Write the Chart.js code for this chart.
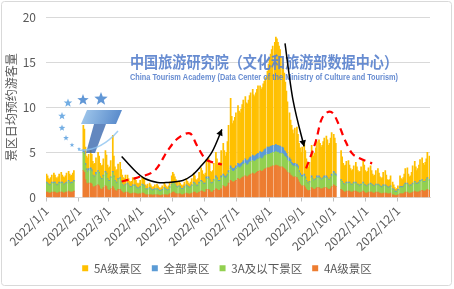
<!DOCTYPE html>
<html><head><meta charset="utf-8">
<script src="https://cdn.jsdelivr.net/npm/chart.js@4"></script>
<style>html,body{margin:0;padding:0;background:#fff;}canvas{display:block;}</style>
</head><body>
<canvas id="c" width="454" height="289"></canvas>
<script>
// ---------- data ----------
const seriesNames = ['5A级景区', '全部景区', '3A及以下景区', '4A级景区'];
const monthTicks = ['2022/1/1','2022/2/1','2022/3/1','2022/4/1','2022/5/1','2022/6/1','2022/7/1','2022/8/1','2022/9/1','2022/10/1','2022/11/1','2022/12/1'];
const yTicks = [0, 5, 10, 15, 20];
const yTitle = '景区日均预约游客量';

// daily values, one row per week (last entry of each row = missing day)
const a4 = [ // 4A级景区 (orange)
.6,.6,.5,.5,.5,.6,null, .6,.6,.5,.5,.5,.6,null, .6,.6,.5,.5,.6,.6,null, .7,.6,.6,.6,.6,.7,null,
null,null,null,null,null,null,null,
3.0,2.8,2.0,1.6,1.5,1.6,null, 1.6,1.5,1.2,1.1,1.2,1.3,null, 1.4,1.3,1.0,.9,.9,1.1,null, 1.3,1.2,.9,.8,.8,1.0,null,
1.2,1.0,.8,.7,.7,.9,null, .9,.7,.6,.5,.5,.6,null, .6,.5,.4,.4,.4,.5,null, .5,.4,.4,.3,.4,.4,null,
.5,.5,.4,.3,.3,.3,null, .3,.3,.3,.2,.3,.3,null, .3,.3,.2,.2,.2,.3,null, .3,.3,.3,.2,.3,.4,null,
.5,.6,.6,.5,.4,.4,null, .4,.4,.3,.3,.3,.4,null, .5,.4,.4,.3,.4,.5,null, .6,.6,.5,.4,.5,.6,null,
.7,.7,.6,.6,.6,.9,null, .9,.8,.6,.6,.6,.8,null, 1.0,.9,.8,.8,.8,1.0,null, 1.3,1.2,1.1,1.2,1.3,1.6,null,
1.9,1.8,1.7,1.7,1.8,1.9,null, 2.1,2.0,2.0,2.1,2.2,2.3,null, 2.4,2.3,2.3,2.4,2.5,2.6,null, 2.7,2.6,2.6,2.7,2.8,2.9,null,
3.0,2.9,2.9,3.0,3.1,3.2,null, 3.3,3.3,3.3,3.4,3.4,3.5,null, 3.5,3.6,3.5,3.5,3.4,3.4,null, 3.4,3.3,3.2,3.1,3.0,2.8,null,
2.7,2.5,2.4,2.3,2.2,2.3,null, 2.2,2.0,1.7,1.5,1.3,1.3,null, 1.3,1.1,.9,.8,.7,.8,null, 1.1,1.0,.9,.9,1.0,1.1,null,
1.1,1.0,.9,1.0,1.0,1.1,null, 1.1,1.0,.9,.9,1.0,1.2,null, 1.4,1.3,1.2,null,null,null,null, .9,.8,.7,.6,.6,.7,null,
.7,.7,.6,.6,.6,.7,null, .7,.6,.6,.5,.5,.6,null, .7,.6,.5,.5,.5,.6,null, .6,.6,.5,.5,.5,.6,null,
.6,.5,.5,.4,.4,.5,null, .5,.5,.4,.4,.4,.5,null, .3,.3,.2,.2,.2,.3,null, .4,.4,.4,.4,.5,.6,null,
.6,.5,.4,.5,.5,.6,null, .7,.6,.6,.6,.6,.7,null, .8,.7,.7,.7,.8,.9,null, .8
];
const a3 = [ // 3A及以下景区 (green)
1.0,.9,.9,.8,.9,1.0,null, 1.0,1.0,.9,.8,.9,1.0,null, 1.0,1.0,.9,.9,.9,1.0,null, 1.1,1.0,.9,1.0,1.0,1.1,null,
null,null,null,null,null,null,null,
2.0,2.0,1.6,1.4,1.3,1.4,null, 1.5,1.4,1.2,1.1,1.1,1.3,null, 1.5,1.4,1.2,1.1,1.1,1.3,null, 1.5,1.4,1.1,1.0,1.0,1.2,null,
1.6,1.3,1.0,.9,.9,1.1,null, 1.2,1.0,.8,.7,.7,.8,null, .9,.8,.7,.7,.7,.8,null, .8,.7,.6,.6,.6,.7,null,
.9,.8,.8,.6,.5,.6,null, .7,.6,.5,.5,.5,.6,null, .6,.5,.5,.5,.5,.5,null, .7,.6,.5,.5,.5,.7,null,
.9,1.0,1.0,.9,.8,.7,null, .8,.7,.6,.6,.6,.7,null, .8,.8,.7,.7,.7,.8,null, 1.0,.9,.8,.8,.8,1.0,null,
1.1,1.0,.9,.9,.9,1.2,null, 1.2,1.1,1.0,.9,1.0,1.1,null, 1.2,1.1,1.0,1.0,1.0,1.2,null, 1.1,1.0,1.0,1.0,1.1,1.2,null,
1.3,1.2,1.2,1.2,1.2,1.3,null, 1.3,1.3,1.3,1.3,1.3,1.4,null, 1.4,1.3,1.3,1.3,1.4,1.4,null, 1.4,1.4,1.4,1.4,1.4,1.4,null,
1.4,1.4,1.4,1.4,1.5,1.5,null, 1.5,1.5,1.5,1.5,1.5,1.5,null, 1.5,1.5,1.5,1.5,1.5,1.5,null, 1.5,1.5,1.4,1.4,1.4,1.3,null,
1.3,1.3,1.2,1.2,1.2,1.2,null, 1.2,1.2,1.1,1.0,1.0,1.0,null, 1.1,1.0,.9,.8,.8,.9,null, 1.1,1.0,.9,1.0,1.0,1.1,null,
1.1,1.1,1.0,1.0,1.1,1.1,null, 1.1,1.1,1.0,1.0,1.1,1.2,null, 1.3,1.2,1.2,null,null,null,null, 1.0,.9,.8,.8,.8,.9,null,
.9,.9,.8,.8,.8,.9,null, .9,.8,.8,.7,.8,.8,null, .9,.8,.8,.7,.7,.8,null, .9,.8,.8,.7,.7,.8,null,
.8,.8,.7,.7,.7,.8,null, .8,.7,.7,.6,.7,.7,null, .6,.5,.4,.4,.4,.5,null, .7,.7,.7,.7,.8,.9,null,
.9,.8,.7,.8,.8,.9,null, 1.0,.9,.9,.9,1.0,1.1,null, 1.1,1.0,1.0,1.0,1.1,1.2,null, 1.1
];
const allSpots = [ // 全部景区 (blue)
.1,.1,.1,.1,.1,.1,null, .1,.1,.1,.1,.1,.1,null, .1,.1,.1,.1,.1,.1,null, .1,.1,.1,.1,.1,.1,null,
null,null,null,null,null,null,null,
.3,.3,.2,.2,.2,.2,null, .2,.2,.1,.1,.1,.2,null, .1,.1,.1,.1,.1,.1,null, .1,.1,.1,.1,.1,.1,null,
.1,.1,.1,.1,.1,.1,null, .1,.1,.1,.1,.1,.1,null, .1,.1,.1,.1,.1,.1,null, .1,.1,.1,.1,.1,.1,null,
.1,.1,.1,.1,.1,.1,null, .1,.1,.1,.1,.1,.1,null, .1,.1,.1,.1,.1,.1,null, .1,.1,.1,.1,.1,.1,null,
.1,.1,.1,.1,.1,.1,null, .1,.1,.1,.1,.1,.1,null, .1,.1,.1,.1,.1,.1,null, .1,.1,.1,.1,.1,.1,null,
.1,.1,.1,.1,.1,.2,null, .2,.1,.1,.1,.1,.1,null, .2,.2,.1,.1,.1,.2,null, .2,.2,.2,.2,.2,.2,null,
.3,.3,.3,.3,.3,.3,null, .4,.4,.4,.4,.4,.4,null, .5,.5,.5,.5,.5,.5,null, .6,.6,.6,.6,.6,.6,null,
.7,.7,.7,.7,.7,.7,null, .8,.8,.8,.8,.8,.8,null, .8,.8,.8,.8,.8,.8,null, .7,.7,.6,.6,.5,.5,null,
.4,.4,.3,.3,.3,.3,null, .3,.3,.2,.2,.2,.2,null, .2,.2,.1,.1,.1,.1,null, .2,.1,.1,.1,.1,.2,null,
.2,.1,.1,.1,.1,.2,null, .2,.1,.1,.1,.1,.2,null, .2,.2,.2,null,null,null,null, .1,.1,.1,.1,.1,.1,null,
.1,.1,.1,.1,.1,.1,null, .1,.1,.1,.1,.1,.1,null, .1,.1,.1,.1,.1,.1,null, .1,.1,.1,.1,.1,.1,null,
.1,.1,.1,.1,.1,.1,null, .1,.1,.1,.1,.1,.1,null, .1,.1,.1,.1,.1,.1,null, .1,.1,.1,.1,.1,.1,null,
.1,.1,.1,.1,.1,.1,null, .1,.1,.1,.1,.1,.1,null, .1,.1,.1,.1,.1,.1,null, .1
];
const a5 = [ // 5A级景区 (yellow)
.9,.8,.6,.6,.7,.8,null, 1.0,.8,.7,.7,.8,.9,null, 1.1,.8,.8,.7,.8,1.0,null, 1.0,.9,.8,.8,1.0,1.1,null,
null,null,null,null,null,null,null,
2.7,2.5,1.8,1.4,1.4,1.6,null, 1.9,1.7,1.5,1.4,1.4,1.6,null, 2.0,1.8,1.5,1.4,1.5,1.8,null, 2.3,2.0,1.5,1.4,1.5,1.8,null,
4.0,2.2,1.5,1.3,1.4,1.6,null, 1.7,1.3,1.0,.9,.8,1.0,null, .9,.7,.6,.5,.6,.8,null, .8,.7,.5,.5,.5,.7,null,
.8,.8,.7,.4,.4,.5,null, .5,.4,.3,.3,.3,.4,null, .5,.4,.3,.2,.3,.4,null, .5,.4,.3,.3,.4,.5,null,
.9,1.1,.9,.8,.7,.5,null, .5,.4,.4,.3,.4,.5,null, .7,.5,.4,.4,.5,.7,null, 1.0,.8,.6,.6,.7,1.1,null,
1.4,1.2,1.0,.9,1.1,1.9,null, 2.1,1.8,1.2,1.2,1.3,1.8,null, 2.6,2.1,1.7,1.6,2.0,2.8,null, 3.4,2.8,2.3,2.6,3.6,5.0,null,
7.5,5.7,5.0,5.3,5.6,5.9,null, 6.4,5.9,5.7,6.0,6.4,6.7,null, 6.9,6.4,6.3,6.6,6.9,7.1,null, 7.3,6.8,6.6,6.9,7.2,7.5,null,
7.3,7.0,7.2,7.5,7.6,7.9,null, 8.4,9.2,9.8,10.2,10.7,11.0,null, 11.4,11.9,11.8,11.4,11.1,10.7,null, 10.0,9.3,8.6,7.7,6.9,6.0,null,
5.0,4.4,4.1,3.7,3.4,3.9,null, 4.1,3.5,3.0,2.8,2.5,3.1,null, 3.4,2.9,2.4,1.9,1.8,2.1,null, 3.4,2.9,2.7,2.9,3.4,3.8,null,
4.0,3.8,3.6,3.7,4.0,4.2,null, 4.4,4.2,3.8,4.0,4.4,4.6,null, 4.1,3.9,3.4,null,null,null,null, 3.2,2.7,2.2,2.0,2.1,2.3,null,
2.4,1.9,1.7,1.5,1.6,1.8,null, 2.2,1.9,1.5,1.5,1.5,1.9,null, 2.4,2.1,1.6,1.5,1.6,1.8,null, 1.9,1.5,1.2,1.1,1.2,1.5,null,
1.7,1.3,1.0,.9,1.0,1.4,null, 1.6,1.2,.8,.8,.8,1.1,null, .7,.5,.4,.2,.3,.4,null, 1.2,.9,.8,1.0,1.2,1.6,null,
1.7,1.2,1.1,1.0,1.4,1.9,null, 2.2,1.8,1.4,1.6,1.9,2.3,null, 2.4,2.0,1.8,2.1,2.3,2.8,null, 2.6
];

// decorative annotation paths, in [day index, value] coordinates
const annoBlack1 = [[71.4,4.56],[83.8,3.0],[93.3,2.11],[105.7,1.67],[115.2,1.67],[129.5,1.89],[138.1,2.44],[145.7,3.33],[157.1,5.0],[166.7,7.56]];
const annoBlack2 = [[226.7,17.1],[234.3,10.8],[244.8,5.67]];
const annoRed1 = [[71.4,1.78],[86.7,2.22],[102.9,3.0],[115.2,5.22],[124.8,6.56],[136.2,7.11],[142.9,5.78],[150.5,4.33],[158.1,3.89],[166.7,3.67]];
const annoRed2 = [[246.7,3.22],[251.4,4.67],[256.2,6.33],[261,8.56],[266.7,9.44],[272.4,9.33],[278.1,8.0],[283.8,6.33],[290.5,4.89],[298.1,4.33],[309.5,3.78]];
const wmCN = '中国旅游研究院（文化和旅游部数据中心）';
const wmEN = 'China Tourism Academy (Data Center of the Ministry of Culture and Tourism)';

// categories: every day of 2022
const days = [];
for (let d = new Date(2022, 0, 1); d.getFullYear() === 2022; d.setDate(d.getDate() + 1)) {
  days.push('2022/' + (d.getMonth() + 1) + '/' + d.getDate());
}

// ---------- drawing helpers ----------
function smoothPath(ctx, pts) {
  ctx.moveTo(pts[0][0], pts[0][1]);
  let last = null;
  for (let i = 0; i < pts.length - 1; i++) {
    const p0 = pts[i - 1] || pts[i], p1 = pts[i], p2 = pts[i + 1], p3 = pts[i + 2] || p2;
    const c1 = [p1[0] + (p2[0] - p0[0]) / 6, p1[1] + (p2[1] - p0[1]) / 6];
    const c2 = [p2[0] - (p3[0] - p1[0]) / 6, p2[1] - (p3[1] - p1[1]) / 6];
    ctx.bezierCurveTo(c1[0], c1[1], c2[0], c2[1], p2[0], p2[1]);
    last = c2;
  }
  return last;
}
function arrowHead(ctx, from, to, size) {
  const a = Math.atan2(to[1] - from[1], to[0] - from[0]);
  ctx.beginPath();
  ctx.moveTo(to[0], to[1]);
  ctx.lineTo(to[0] - size * Math.cos(a - 0.5), to[1] - size * Math.sin(a - 0.5));
  ctx.lineTo(to[0] - size * Math.cos(a + 0.5), to[1] - size * Math.sin(a + 0.5));
  ctx.closePath();
  ctx.fill();
}
function star(ctx, cx, cy, r) {
  ctx.beginPath();
  for (let i = 0; i < 10; i++) {
    const rr = i % 2 ? r * 0.42 : r;
    const a = -Math.PI / 2 + i * Math.PI / 5;
    ctx.lineTo(cx + rr * Math.cos(a), cy + rr * Math.sin(a));
  }
  ctx.closePath();
  ctx.fill();
}

const decoPlugin = {
  id: 'deco',
  afterDatasetsDraw(chart) {
    const {ctx, scales: {x, y}} = chart;
    const P = (p) => [x.getPixelForValue(p[0]), y.getPixelForValue(p[1])];
    ctx.save();
    // stars
    const stars = [[101,99,7],[83,100,6],[68,103,4.5],[62,116,4],[62,128,3.5],[66,138,3],[72,145,2.5],[79,149,2]];
    stars.forEach(s => { ctx.fillStyle = s[2] > 5 ? 'rgba(80,140,210,0.9)' : 'rgba(100,165,225,0.9)'; star(ctx, s[0], s[1], s[2]); });
    // T logo
    const g = ctx.createLinearGradient(80, 110, 122, 125);
    g.addColorStop(0, 'rgba(150,195,235,0.85)');
    g.addColorStop(1, 'rgba(50,110,190,0.85)');
    ctx.fillStyle = g;
    ctx.beginPath(); ctx.moveTo(87,110); ctx.lineTo(122,110); ctx.lineTo(116,124); ctx.lineTo(81,124); ctx.closePath(); ctx.fill();
    ctx.fillStyle = 'rgba(45,95,170,0.75)';
    ctx.beginPath(); ctx.moveTo(94,124); ctx.lineTo(106,124); ctx.lineTo(95,153); ctx.lineTo(86,153); ctx.closePath(); ctx.fill();
    ctx.strokeStyle = 'rgba(140,195,240,0.8)'; ctx.lineWidth = 1.5;
    ctx.beginPath(); ctx.moveTo(78,150); ctx.quadraticCurveTo(100,152,118,131); ctx.stroke();
    // watermark text
    ctx.fillStyle = 'rgba(90,130,205,0.92)';
    ctx.textBaseline = 'middle'; ctx.textAlign = 'left';
    ctx.font = 'bold 15px "Noto Sans CJK SC"';
    let w = ctx.measureText(wmCN).width;
    ctx.save(); ctx.translate(130, 62); ctx.scale(268 / w, 1.05); ctx.fillText(wmCN, 0, 0); ctx.restore();
    ctx.font = 'bold 8px "Liberation Sans"';
    w = ctx.measureText(wmEN).width;
    ctx.save(); ctx.translate(130, 78); ctx.scale(268 / w, 1.1); ctx.fillText(wmEN, 0, 0); ctx.restore();

    // red dashed curves
    ctx.strokeStyle = '#FF0000'; ctx.lineWidth = 2.2; ctx.setLineDash([7, 5]);
    [annoRed1, annoRed2].forEach(path => { ctx.beginPath(); smoothPath(ctx, path.map(P)); ctx.stroke(); });
    ctx.setLineDash([]);
    // black arrows
    ctx.strokeStyle = '#000'; ctx.fillStyle = '#000'; ctx.lineWidth = 1.5;
    [annoBlack1, annoBlack2].forEach(path => {
      const pts = path.map(P);
      ctx.beginPath(); const c = smoothPath(ctx, pts); ctx.stroke();
      arrowHead(ctx, c, pts[pts.length - 1], 7);
    });
    ctx.restore();
  },
  afterDraw(chart) {
    const ctx = chart.ctx;
    ctx.save();
    ctx.strokeStyle = '#d9d9d9'; ctx.lineWidth = 1;
    ctx.beginPath(); ctx.roundRect(1.5, 1.5, 450, 284, 3); ctx.stroke();
    ctx.restore();
  }
};

Chart.defaults.font.family = '"Noto Sans CJK SC", "Noto Sans", sans-serif';
Chart.defaults.color = '#595959';

new Chart(document.getElementById('c'), {
  type: 'bar',
  data: {
    labels: days,
    datasets: [
      {label: seriesNames[3], data: a4, backgroundColor: '#ED7D31'},
      {label: seriesNames[2], data: a3, backgroundColor: '#92D050'},
      {label: seriesNames[1], data: allSpots, backgroundColor: '#5B9BD5'},
      {label: seriesNames[0], data: a5, backgroundColor: '#FFC000'}
    ].map(d => Object.assign(d, {barPercentage: 1, categoryPercentage: 1, borderWidth: 0}))
  },
  options: {
    responsive: false,
    devicePixelRatio: 1,
    animation: false,
    layout: {padding: {left: 0, right: 0, top: 17, bottom: 5}},
    plugins: {
      tooltip: {enabled: false},
      legend: {
        position: 'bottom', reverse: true,
        labels: {boxWidth: 6, boxHeight: 6, padding: 10, font: {size: 11.5}, color: '#595959'}
      }
    },
    scales: {
      x: {
        stacked: true,
        afterFit(s) { s.height = 55; },
        grid: {drawOnChartArea: false, tickLength: 4, color: c => (c.tick && c.tick.label) ? '#bfbfbf' : 'rgba(0,0,0,0)'},
        border: {display: true, color: '#d9d9d9'},
        ticks: {
          autoSkip: false, maxRotation: 45, minRotation: 45, padding: 2, font: {size: 12},
          callback(v) { const l = this.getLabelForValue(v); return monthTicks.includes(l) ? l : ''; }
        }
      },
      y: {
        stacked: true, min: 0, max: 20,
        afterFit(s) { s.width = 46; },
        afterBuildTicks(s) { s.ticks = yTicks.map(v => ({value: v})); },
        grid: {color: '#d9d9d9', drawTicks: false},
        border: {display: false},
        ticks: {padding: 10, font: {size: 12}},
        title: {display: true, text: yTitle, font: {size: 12}, padding: {top: 4, bottom: 0}}
      },
      y2: {
        position: 'right', display: true,
        afterFit(s) { s.width = 24; },
        grid: {display: false}, border: {display: false}, ticks: {display: false}
      }
    }
  },
  plugins: [decoPlugin]
});
</script>
</body></html>
